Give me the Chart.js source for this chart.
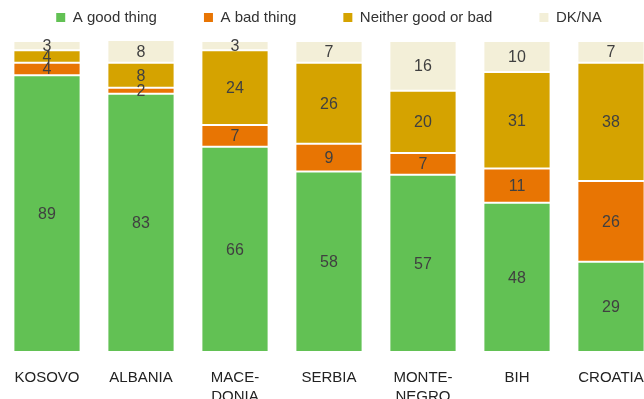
<!DOCTYPE html>
<html>
<head>
<meta charset="utf-8">
<script src="https://cdn.jsdelivr.net/npm/chart.js@4"></script>
<style>
    html, body { margin: 0; padding: 0; background: #fff; overflow: hidden; }
    #wrap { width: 658px; height: 399px; }
</style>
</head>
<body>
<div id="wrap"><canvas id="chart" width="658" height="399"></canvas></div>
<script>
const countries = ['KOSOVO', 'ALBANIA', ['MACE-', 'DONIA'], 'SERBIA', ['MONTE-', 'NEGRO'], 'BIH', 'CROATIA'];
const goodThing = [89, 83, 66, 58, 57, 48, 29];
const badThing = [4, 2, 7, 9, 7, 11, 26];
const neither = [4, 8, 24, 26, 20, 31, 38];
const dkNa = [3, 8, 3, 7, 16, 10, 7];

const FONT = '"Liberation Sans", Arial, sans-serif';

// writes the value in the middle of each segment
const barLabels = {
    id: 'barLabels',
    afterDatasetsDraw(chart) {
        const c = chart.ctx;
        const top = chart.chartArea.top;
        c.save();
        c.font = '16px ' + FONT;
        c.fillStyle = '#404040';
        c.textAlign = 'center';
        c.textBaseline = 'middle';
        chart.data.datasets.forEach((ds, i) => {
            chart.getDatasetMeta(i).data.forEach((bar, j) => {
                const p = bar.getProps(['x', 'y', 'base'], true);
                const y1 = Math.max(p.y, top);
                c.fillText(ds.data[j], p.x, (y1 + p.base) / 2 + 1);
            });
        });
        c.restore();
    }
};

// keep the legend short and pull its row up to the top edge
const legendPlace = {
    id: 'legendPlace',
    beforeLayout(chart) {
        const lg = chart.legend;
        if (lg && !lg._patched) {
            const fit = lg.fit;
            lg.fit = function () {
                fit.call(this);
                this.height = 41;
            };
            lg._patched = true;
        }
    },
    afterLayout(chart) {
        if (chart.legend) chart.legend.top = -37;
    }
};

document.addEventListener("DOMContentLoaded", function () {
    const ctx = document.getElementById('chart').getContext('2d');

    const seg = {
        borderWidth: 1,
        borderColor: 'rgba(255, 255, 255, 0.18)',
        borderSkipped: false,
        barPercentage: 0.715,
        categoryPercentage: 1
    };

    const data = {
        labels: countries,
        datasets: [
            Object.assign({ label: 'A good thing', data: goodThing, backgroundColor: '#62c154' }, seg),
            Object.assign({ label: 'A bad thing', data: badThing, backgroundColor: '#e87503' }, seg),
            Object.assign({ label: 'Neither good or bad', data: neither, backgroundColor: '#d5a300' }, seg),
            Object.assign({ label: 'DK/NA', data: dkNa, backgroundColor: '#f3efd8' }, seg)
        ]
    };

    const config = {
        type: 'bar',
        data: data,
        options: {
            responsive: false,
            animation: false,
            layout: { padding: 0 },
            plugins: {
                legend: {
                    position: 'top',
                    labels: {
                        boxWidth: 9,
                        boxHeight: 9,
                        padding: 47,
                        color: '#333',
                        font: { family: FONT, size: 15 },
                        generateLabels(chart) {
                            return chart.data.datasets.map((ds, i) => ({
                                text: ds.label,
                                fillStyle: ds.backgroundColor,
                                strokeStyle: ds.backgroundColor,
                                lineWidth: 0,
                                fontColor: '#333',
                                datasetIndex: i
                            }));
                        }
                    }
                },
                tooltip: { enabled: false }
            },
            scales: {
                x: {
                    stacked: true,
                    grid: { display: false },
                    border: { display: false },
                    ticks: {
                        color: '#222',
                        padding: 8,
                        maxRotation: 0,
                        autoSkip: false,
                        font: { family: FONT, size: 15, lineHeight: 1.27 }
                    },
                    afterFit(scale) {
                        scale.height = 47;
                    }
                },
                y: {
                    stacked: true,
                    display: false,
                    min: 0,
                    max: 100
                }
            }
        },
        plugins: [barLabels, legendPlace]
    };

    new Chart(ctx, config);
});
</script>
</body>
</html>
